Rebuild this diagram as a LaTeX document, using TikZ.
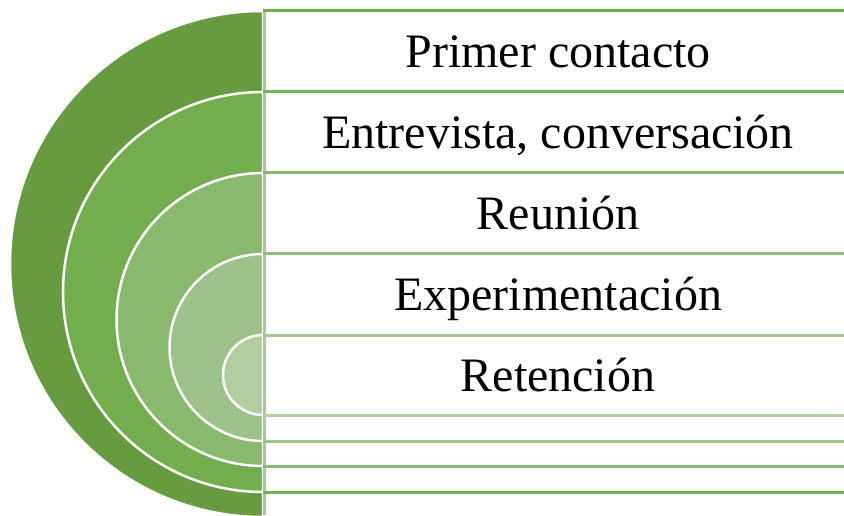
\documentclass[tikz,border=0pt]{standalone}
\usepackage{fontspec}
\setmainfont{Liberation Serif}
\definecolor{cA}{HTML}{669B40}
\definecolor{cB}{HTML}{73AE4E}
\definecolor{cC}{HTML}{89B96D}
\definecolor{cD}{HTML}{9CC189}
\definecolor{cE}{HTML}{B1CDA1}
\definecolor{tA}{HTML}{70AD47}
\definecolor{tB}{HTML}{78B154}
\definecolor{tC}{HTML}{84B765}
\definecolor{tD}{HTML}{93BD7B}
\definecolor{tE}{HTML}{A5C692}
\definecolor{bE}{HTML}{B5D0A5}
\definecolor{bD}{HTML}{9DC38A}
\definecolor{bC}{HTML}{8ABA6F}
\definecolor{bB}{HTML}{74AF50}
\definecolor{vL}{HTML}{A8CB93}
\tikzset{
  disc/.style={draw=white, line width=2.5pt},
  band/.style={line width=3pt},
  lbl/.style={anchor=base, inner sep=0pt, font=\fontsize{48}{58}\selectfont}
}
\begin{document}
\begin{tikzpicture}[x=1pt,y=1pt]
\useasboundingbox (0,0) rectangle (844,515);
\clip (0,0) rectangle (844,515);
\fill[white] (0,0) rectangle (844,515);
% discs
\filldraw[disc, fill=cA] (263,504) arc[start angle=90, end angle=270, radius=253] -- cycle;
\filldraw[disc, fill=cB] (263,423) arc[start angle=90, end angle=270, radius=200] -- cycle;
\filldraw[disc, fill=cC] (263,342) arc[start angle=90, end angle=270, radius=146.5] -- cycle;
\filldraw[disc, fill=cD] (263,261) arc[start angle=90, end angle=270, radius=93.5] -- cycle;
\filldraw[disc, fill=cE] (263,180) arc[start angle=90, end angle=270, radius=40] -- cycle;
% top lines
\coordinate (t1) at (263,504); \coordinate (t1r) at (844,504);
\coordinate (t2) at (263,423); \coordinate (t2r) at (844,423);
\coordinate (t3) at (263,342); \coordinate (t3r) at (844,342);
\coordinate (t4) at (263,261); \coordinate (t4r) at (844,261);
\coordinate (t5) at (263,180); \coordinate (t5r) at (844,180);
\coordinate (b5) at (263,100); \coordinate (b5r) at (844,100);
\coordinate (b4) at (263,74);  \coordinate (b4r) at (844,74);
\coordinate (b3) at (263,49);  \coordinate (b3r) at (844,49);
\coordinate (b2) at (263,23);  \coordinate (b2r) at (844,23);
\coordinate (vtop) at (264.5,505.5); \coordinate (vbot) at (264.5,0);
\draw[band, draw=vL] (vtop) -- (vbot);
\draw[band, draw=tA] (t1) -- (t1r);
\draw[band, draw=tB] (t2) -- (t2r);
\draw[band, draw=tC] (t3) -- (t3r);
\draw[band, draw=tD] (t4) -- (t4r);
\draw[band, draw=tE] (t5) -- (t5r);
\draw[band, draw=bE] (b5) -- (b5r);
\draw[band, draw=bD] (b4) -- (b4r);
\draw[band, draw=bC] (b3) -- (b3r);
\draw[band, draw=bB] (b2) -- (b2r);
% labels
\node[lbl] (l1) at (558,447.5) {Primer contacto};
\node[lbl] (l2) at (558,366.5) {Entrevista, conversación};
\node[lbl] (l3) at (558,285.5) {Reunión};
\node[lbl] (l4) at (558,204.5) {Experimentación};
\node[lbl] (l5) at (558,123.5) {Retención};
\end{tikzpicture}
\end{document}
